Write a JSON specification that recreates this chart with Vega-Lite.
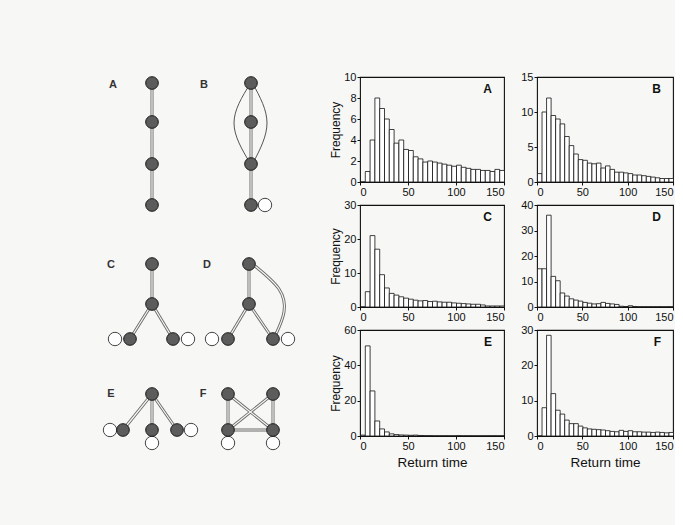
{
  "$schema": "https://vega.github.io/schema/vega-lite/v6.json",
  "background": "#f7f7f5",
  "padding": {"left": 0, "top": 70, "right": 0, "bottom": 55},
  "bounds": "flush",
  "align": "each",
  "columns": 3,
  "spacing": {"row": 23, "column": 33},
  "config": {
    "view": {"stroke": "#111", "strokeWidth": 1.1},
    "bar": {"binSpacing": 0},
    "axis": {"domain": false, "grid": false, "ticks": true, "tickColor": "#111", "tickSize": 3, "labelOverlap": false, "labelFont": "Liberation Sans", "labelFontSize": 11, "labelColor": "#111", "labelPadding": 1, "titleFont": "Liberation Sans", "titleFontWeight": "normal", "titleColor": "#111"},
    "axisY": {"titleFontSize": 12, "titlePadding": 1},
    "axisX": {"titleFontSize": 13.5, "titlePadding": 4},
    "title": {"anchor": "end", "frame": "group", "offset": -25, "dx": -12, "font": "Liberation Sans", "fontSize": 12, "fontWeight": "bold", "color": "#111"}
  },
  "datasets": {
    "edges": [
      {"x": 152, "y": 83, "xe": 152, "ye": 122}, {"x": 152, "y": 122, "xe": 152, "ye": 164}, {"x": 152, "y": 164, "xe": 152, "ye": 205},
      {"x": 251, "y": 83, "xe": 251, "ye": 122}, {"x": 251, "y": 122, "xe": 251, "ye": 164}, {"x": 251, "y": 164, "xe": 251, "ye": 205},
      {"x": 152, "y": 264, "xe": 152, "ye": 304}, {"x": 152, "y": 304, "xe": 130, "ye": 339}, {"x": 152, "y": 304, "xe": 173, "ye": 339},
      {"x": 249, "y": 264, "xe": 249, "ye": 304}, {"x": 249, "y": 304, "xe": 228, "ye": 339}, {"x": 249, "y": 304, "xe": 273, "ye": 339},
      {"x": 152, "y": 394, "xe": 123, "ye": 430}, {"x": 152, "y": 394, "xe": 152, "ye": 430}, {"x": 152, "y": 394, "xe": 177, "ye": 430},
      {"x": 228, "y": 394, "xe": 228, "ye": 430}, {"x": 273, "y": 394, "xe": 273, "ye": 430}, {"x": 228, "y": 430, "xe": 273, "ye": 430},
      {"x": 228, "y": 394, "xe": 273, "ye": 430}, {"x": 273, "y": 394, "xe": 228, "ye": 430}
    ],
    "arcsThin": [
      {"id": "L", "k": 0, "x": 250, "y": 84}, {"id": "L", "k": 1, "x": 234, "y": 123}, {"id": "L", "k": 2, "x": 250, "y": 163},
      {"id": "R", "k": 0, "x": 253, "y": 84}, {"id": "R", "k": 1, "x": 267, "y": 123}, {"id": "R", "k": 2, "x": 253, "y": 163}
    ],
    "arcsDouble": [
      {"id": "D", "k": 0, "x": 255, "y": 266}, {"id": "D", "k": 1, "x": 279, "y": 289}, {"id": "D", "k": 2, "x": 284, "y": 312}, {"id": "D", "k": 3, "x": 276, "y": 334}
    ],
    "loops": [
      {"x": 265, "y": 205}, {"x": 115, "y": 339}, {"x": 188, "y": 339}, {"x": 212, "y": 339}, {"x": 288, "y": 339},
      {"x": 110, "y": 430}, {"x": 152, "y": 443}, {"x": 191, "y": 430}, {"x": 228, "y": 443}, {"x": 273, "y": 443}
    ],
    "nodes": [
      {"x": 152, "y": 83}, {"x": 152, "y": 122}, {"x": 152, "y": 164}, {"x": 152, "y": 205},
      {"x": 251, "y": 83}, {"x": 251, "y": 122}, {"x": 251, "y": 164}, {"x": 251, "y": 205},
      {"x": 152, "y": 264}, {"x": 152, "y": 304}, {"x": 130, "y": 339}, {"x": 173, "y": 339},
      {"x": 249, "y": 264}, {"x": 249, "y": 304}, {"x": 228, "y": 339}, {"x": 273, "y": 339},
      {"x": 152, "y": 394}, {"x": 123, "y": 430}, {"x": 152, "y": 430}, {"x": 177, "y": 430},
      {"x": 228, "y": 394}, {"x": 273, "y": 394}, {"x": 228, "y": 430}, {"x": 273, "y": 430}
    ],
    "labels": [
      {"x": 113, "y": 85, "l": "A"}, {"x": 204, "y": 85, "l": "B"}, {"x": 111, "y": 265, "l": "C"},
      {"x": 207, "y": 265, "l": "D"}, {"x": 111, "y": 394, "l": "E"}, {"x": 203, "y": 394, "l": "F"}
    ],
    "hist": [
      {"p":"A","t":0,"f":0},{"p":"A","t":5,"f":1},{"p":"A","t":10,"f":4},{"p":"A","t":15,"f":8},{"p":"A","t":20,"f":7},{"p":"A","t":25,"f":6},{"p":"A","t":30,"f":5},{"p":"A","t":35,"f":3.7},{"p":"A","t":40,"f":4},{"p":"A","t":45,"f":3.1},{"p":"A","t":50,"f":3},{"p":"A","t":55,"f":2.4},{"p":"A","t":60,"f":2.2},{"p":"A","t":65,"f":1.9},{"p":"A","t":70,"f":2},{"p":"A","t":75,"f":1.9},{"p":"A","t":80,"f":1.8},{"p":"A","t":85,"f":1.7},{"p":"A","t":90,"f":1.6},{"p":"A","t":95,"f":1.5},{"p":"A","t":100,"f":1.6},{"p":"A","t":105,"f":1.4},{"p":"A","t":110,"f":1.3},{"p":"A","t":115,"f":1.2},{"p":"A","t":120,"f":1.2},{"p":"A","t":125,"f":1.1},{"p":"A","t":130,"f":1.1},{"p":"A","t":135,"f":1},{"p":"A","t":140,"f":1.2},{"p":"A","t":145,"f":1.1},
      {"p":"B","t":0,"f":1.2},{"p":"B","t":5,"f":10},{"p":"B","t":10,"f":12},{"p":"B","t":15,"f":9.5},{"p":"B","t":20,"f":9},{"p":"B","t":25,"f":8.3},{"p":"B","t":30,"f":6.5},{"p":"B","t":35,"f":5.2},{"p":"B","t":40,"f":4},{"p":"B","t":45,"f":3.2},{"p":"B","t":50,"f":3.1},{"p":"B","t":55,"f":2.7},{"p":"B","t":60,"f":2.6},{"p":"B","t":65,"f":2.7},{"p":"B","t":70,"f":2},{"p":"B","t":75,"f":2.3},{"p":"B","t":80,"f":1.8},{"p":"B","t":85,"f":1.4},{"p":"B","t":90,"f":1.4},{"p":"B","t":95,"f":1.3},{"p":"B","t":100,"f":1.2},{"p":"B","t":105,"f":1},{"p":"B","t":110,"f":1},{"p":"B","t":115,"f":0.9},{"p":"B","t":120,"f":0.8},{"p":"B","t":125,"f":0.7},{"p":"B","t":130,"f":0.6},{"p":"B","t":135,"f":0.5},{"p":"B","t":140,"f":0.5},{"p":"B","t":145,"f":0.5},
      {"p":"C","t":0,"f":0},{"p":"C","t":5,"f":4.5},{"p":"C","t":10,"f":21},{"p":"C","t":15,"f":17},{"p":"C","t":20,"f":9.5},{"p":"C","t":25,"f":5.6},{"p":"C","t":30,"f":4},{"p":"C","t":35,"f":3.5},{"p":"C","t":40,"f":3},{"p":"C","t":45,"f":2.6},{"p":"C","t":50,"f":2.3},{"p":"C","t":55,"f":2},{"p":"C","t":60,"f":1.8},{"p":"C","t":65,"f":1.9},{"p":"C","t":70,"f":1.6},{"p":"C","t":75,"f":1.7},{"p":"C","t":80,"f":1.5},{"p":"C","t":85,"f":1.4},{"p":"C","t":90,"f":1.4},{"p":"C","t":95,"f":1.2},{"p":"C","t":100,"f":1.1},{"p":"C","t":105,"f":1},{"p":"C","t":110,"f":0.9},{"p":"C","t":115,"f":0.8},{"p":"C","t":120,"f":0.8},{"p":"C","t":125,"f":0.6},{"p":"C","t":130,"f":0.3},{"p":"C","t":135,"f":0.3},{"p":"C","t":140,"f":0.3},{"p":"C","t":145,"f":0.3},
      {"p":"D","t":0,"f":15},{"p":"D","t":5,"f":15},{"p":"D","t":10,"f":36},{"p":"D","t":15,"f":12},{"p":"D","t":20,"f":10.3},{"p":"D","t":25,"f":5.5},{"p":"D","t":30,"f":4.3},{"p":"D","t":35,"f":3.2},{"p":"D","t":40,"f":2.7},{"p":"D","t":45,"f":2.3},{"p":"D","t":50,"f":1.8},{"p":"D","t":55,"f":1.5},{"p":"D","t":60,"f":1.2},{"p":"D","t":65,"f":1.3},{"p":"D","t":70,"f":1.8},{"p":"D","t":75,"f":1.4},{"p":"D","t":80,"f":1.2},{"p":"D","t":85,"f":1},{"p":"D","t":90,"f":0.3},{"p":"D","t":95,"f":0.2},{"p":"D","t":100,"f":0.5},{"p":"D","t":105,"f":0.2},{"p":"D","t":110,"f":0.1},{"p":"D","t":115,"f":0.1},{"p":"D","t":120,"f":0.1},{"p":"D","t":125,"f":0.1},{"p":"D","t":130,"f":0.1},{"p":"D","t":135,"f":0.1},{"p":"D","t":140,"f":0.1},{"p":"D","t":145,"f":0.1},
      {"p":"E","t":0,"f":0.5},{"p":"E","t":5,"f":51},{"p":"E","t":10,"f":25.5},{"p":"E","t":15,"f":8.5},{"p":"E","t":20,"f":4},{"p":"E","t":25,"f":2.3},{"p":"E","t":30,"f":1.2},{"p":"E","t":35,"f":0.8},{"p":"E","t":40,"f":0.6},{"p":"E","t":45,"f":0.5},{"p":"E","t":50,"f":0.4},{"p":"E","t":55,"f":0.5},{"p":"E","t":60,"f":0.3},{"p":"E","t":65,"f":0.2},{"p":"E","t":70,"f":0.2},{"p":"E","t":75,"f":0.1},{"p":"E","t":80,"f":0.1},{"p":"E","t":85,"f":0.1},{"p":"E","t":90,"f":0.1},{"p":"E","t":95,"f":0.1},{"p":"E","t":100,"f":0.2},{"p":"E","t":105,"f":0.1},{"p":"E","t":110,"f":0.1},{"p":"E","t":115,"f":0.1},{"p":"E","t":120,"f":0.1},{"p":"E","t":125,"f":0.1},{"p":"E","t":130,"f":0.1},{"p":"E","t":135,"f":0.1},{"p":"E","t":140,"f":0.1},{"p":"E","t":145,"f":0.1},
      {"p":"F","t":0,"f":0},{"p":"F","t":5,"f":8},{"p":"F","t":10,"f":28.5},{"p":"F","t":15,"f":12},{"p":"F","t":20,"f":7.3},{"p":"F","t":25,"f":6.2},{"p":"F","t":30,"f":4.5},{"p":"F","t":35,"f":3.5},{"p":"F","t":40,"f":3.5},{"p":"F","t":45,"f":2.8},{"p":"F","t":50,"f":2.3},{"p":"F","t":55,"f":2},{"p":"F","t":60,"f":1.9},{"p":"F","t":65,"f":1.8},{"p":"F","t":70,"f":1.7},{"p":"F","t":75,"f":1.5},{"p":"F","t":80,"f":1.3},{"p":"F","t":85,"f":1.2},{"p":"F","t":90,"f":1.6},{"p":"F","t":95,"f":1.3},{"p":"F","t":100,"f":1.5},{"p":"F","t":105,"f":1.2},{"p":"F","t":110,"f":1.2},{"p":"F","t":115,"f":1.1},{"p":"F","t":120,"f":1.1},{"p":"F","t":125,"f":1},{"p":"F","t":130,"f":1.1},{"p":"F","t":135,"f":1},{"p":"F","t":140,"f":0.9},{"p":"F","t":145,"f":1}
    ]
  },
  "concat": [
    {
      "width": 327, "height": 105,
      "view": {"stroke": null, "fill": "#f7f7f5"},
      "encoding": {
        "x": {"field": "x", "type": "quantitative", "scale": {"domain": [0, 327], "nice": false, "zero": false}, "axis": null},
        "y": {"field": "y", "type": "quantitative", "scale": {"domain": [77, 182], "nice": false, "zero": false, "reverse": true}, "axis": null}
      },
      "layer": [
        {"data": {"name": "edges"}, "mark": {"type": "rule", "stroke": "#6a6a6a", "strokeWidth": 3}, "encoding": {"x2": {"field": "xe"}, "y2": {"field": "ye"}}},
        {"data": {"name": "edges"}, "mark": {"type": "rule", "stroke": "#f7f7f5", "strokeWidth": 1.2}, "encoding": {"x2": {"field": "xe"}, "y2": {"field": "ye"}}},
        {"data": {"name": "arcsThin"}, "mark": {"type": "line", "stroke": "#555", "strokeWidth": 1, "interpolate": "natural"}, "encoding": {"order": {"field": "k"}, "detail": {"field": "id"}}},
        {"data": {"name": "arcsDouble"}, "mark": {"type": "line", "stroke": "#6a6a6a", "strokeWidth": 3, "interpolate": "natural"}, "encoding": {"order": {"field": "k"}, "detail": {"field": "id"}}},
        {"data": {"name": "arcsDouble"}, "mark": {"type": "line", "stroke": "#f7f7f5", "strokeWidth": 1.2, "interpolate": "natural"}, "encoding": {"order": {"field": "k"}, "detail": {"field": "id"}}},
        {"data": {"name": "loops"}, "mark": {"type": "circle", "fill": "#ffffff", "stroke": "#444", "strokeWidth": 1, "size": 180, "opacity": 1}},
        {"data": {"name": "nodes"}, "mark": {"type": "circle", "fill": "#5c5c5c", "stroke": "#1a1a1a", "strokeWidth": 1, "size": 160, "opacity": 1}},
        {"data": {"name": "labels"}, "mark": {"type": "text", "font": "Liberation Sans", "fontWeight": "bold", "fontSize": 11, "color": "#333"}, "encoding": {"text": {"field": "l"}}}
      ]
    },
    {
      "width": 144, "height": 105, "title": "A",
      "data": {"name": "hist"}, "transform": [{"filter": "datum.p === 'A'"}],
      "mark": {"type": "bar", "fill": "#ffffff", "stroke": "#111", "strokeWidth": 0.8},
      "encoding": {
        "x": {"field": "t", "type": "quantitative", "bin": {"binned": true, "step": 5}, "scale": {"domain": [0, 150], "nice": false, "zero": false}, "axis": {"values": [0, 50, 100, 150], "title": null, "labelOverlap": false}},
        "y": {"field": "f", "type": "quantitative", "scale": {"domain": [0, 10], "nice": false}, "axis": {"values": [0, 2, 4, 6, 8, 10], "title": "Frequency", "labelOverlap": false}}
      }
    },
    {
      "width": 136, "height": 105, "title": "B",
      "data": {"name": "hist"}, "transform": [{"filter": "datum.p === 'B'"}],
      "mark": {"type": "bar", "fill": "#ffffff", "stroke": "#111", "strokeWidth": 0.8},
      "encoding": {
        "x": {"field": "t", "type": "quantitative", "bin": {"binned": true, "step": 5}, "scale": {"domain": [0, 150], "nice": false, "zero": false}, "axis": {"values": [0, 50, 100, 150], "title": null, "labelOverlap": false}},
        "y": {"field": "f", "type": "quantitative", "scale": {"domain": [0, 15], "nice": false}, "axis": {"values": [0, 5, 10, 15], "title": null, "labelOverlap": false}}
      }
    },
    {
      "width": 327, "height": 102, "view": {"stroke": null},
      "data": {"values": [{}]}, "mark": {"type": "text"}, "encoding": {"text": {"value": ""}}
    },
    {
      "width": 144, "height": 102, "title": "C",
      "data": {"name": "hist"}, "transform": [{"filter": "datum.p === 'C'"}],
      "mark": {"type": "bar", "fill": "#ffffff", "stroke": "#111", "strokeWidth": 0.8},
      "encoding": {
        "x": {"field": "t", "type": "quantitative", "bin": {"binned": true, "step": 5}, "scale": {"domain": [0, 150], "nice": false, "zero": false}, "axis": {"values": [0, 50, 100, 150], "title": null, "labelOverlap": false}},
        "y": {"field": "f", "type": "quantitative", "scale": {"domain": [0, 30], "nice": false}, "axis": {"values": [0, 10, 20, 30], "title": "Frequency", "labelOverlap": false}}
      }
    },
    {
      "width": 136, "height": 102, "title": "D",
      "data": {"name": "hist"}, "transform": [{"filter": "datum.p === 'D'"}],
      "mark": {"type": "bar", "fill": "#ffffff", "stroke": "#111", "strokeWidth": 0.8},
      "encoding": {
        "x": {"field": "t", "type": "quantitative", "bin": {"binned": true, "step": 5}, "scale": {"domain": [0, 150], "nice": false, "zero": false}, "axis": {"values": [0, 50, 100, 150], "title": null, "labelOverlap": false}},
        "y": {"field": "f", "type": "quantitative", "scale": {"domain": [0, 40], "nice": false}, "axis": {"values": [0, 10, 20, 30, 40], "title": null, "labelOverlap": false}}
      }
    },
    {
      "width": 327, "height": 106, "view": {"stroke": null},
      "data": {"values": [{}]}, "mark": {"type": "text"}, "encoding": {"text": {"value": ""}}
    },
    {
      "width": 144, "height": 106, "title": "E",
      "data": {"name": "hist"}, "transform": [{"filter": "datum.p === 'E'"}],
      "mark": {"type": "bar", "fill": "#ffffff", "stroke": "#111", "strokeWidth": 0.8},
      "encoding": {
        "x": {"field": "t", "type": "quantitative", "bin": {"binned": true, "step": 5}, "scale": {"domain": [0, 150], "nice": false, "zero": false}, "axis": {"values": [0, 50, 100, 150], "title": "Return time", "labelOverlap": false}},
        "y": {"field": "f", "type": "quantitative", "scale": {"domain": [0, 60], "nice": false}, "axis": {"values": [0, 20, 40, 60], "title": "Frequency", "labelOverlap": false}}
      }
    },
    {
      "width": 136, "height": 106, "title": "F",
      "data": {"name": "hist"}, "transform": [{"filter": "datum.p === 'F'"}],
      "mark": {"type": "bar", "fill": "#ffffff", "stroke": "#111", "strokeWidth": 0.8},
      "encoding": {
        "x": {"field": "t", "type": "quantitative", "bin": {"binned": true, "step": 5}, "scale": {"domain": [0, 150], "nice": false, "zero": false}, "axis": {"values": [0, 50, 100, 150], "title": "Return time", "labelOverlap": false}},
        "y": {"field": "f", "type": "quantitative", "scale": {"domain": [0, 30], "nice": false}, "axis": {"values": [0, 10, 20, 30], "title": null, "labelOverlap": false}}
      }
    }
  ]
}
